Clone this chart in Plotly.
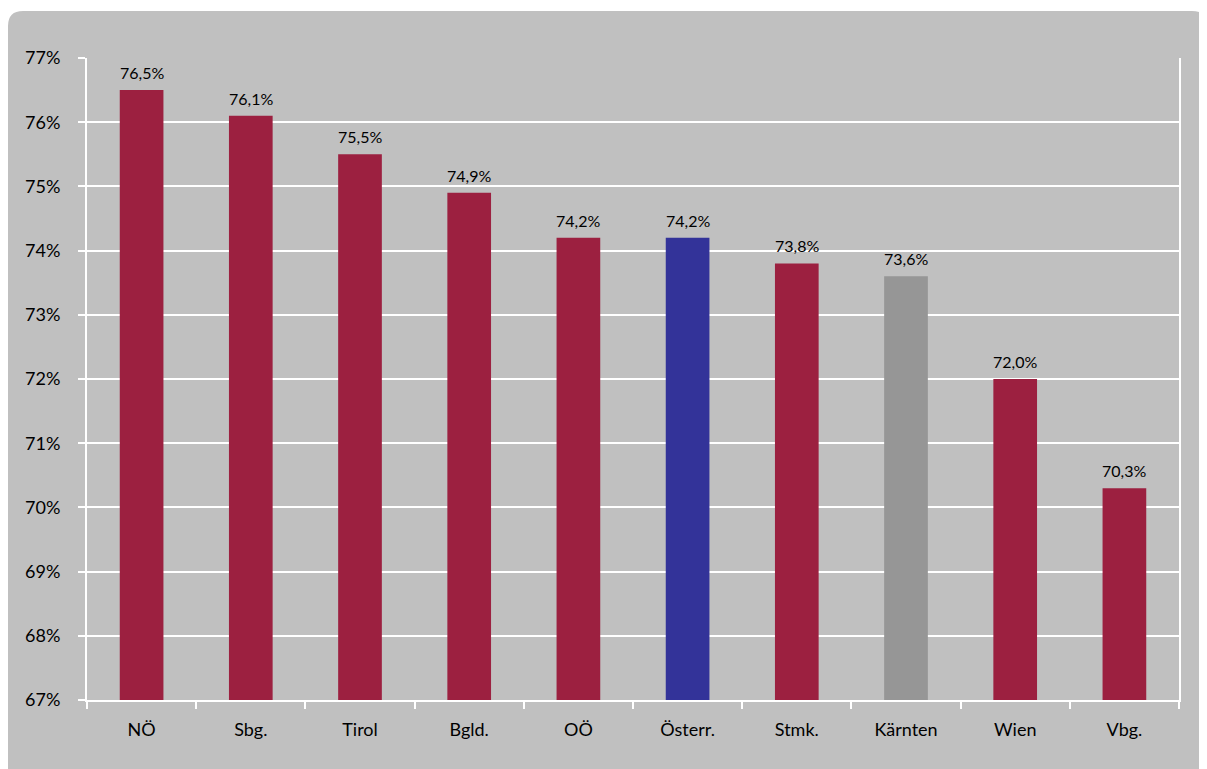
import plotly.graph_objects as go

categories = ["NÖ", "Sbg.", "Tirol", "Bgld.", "OÖ", "Österr.", "Stmk.", "Kärnten", "Wien", "Vbg."]
values = [76.5, 76.1, 75.5, 74.9, 74.2, 74.2, 73.8, 73.6, 72.0, 70.3]
label_texts = ["76,5%", "76,1%", "75,5%", "74,9%", "74,2%", "74,2%", "73,8%", "73,6%", "72,0%", "70,3%"]
bar_colors = ["#9C2040", "#9C2040", "#9C2040", "#9C2040", "#9C2040", "#333399", "#9C2040", "#969696", "#9C2040", "#9C2040"]
y_ticks = [67, 68, 69, 70, 71, 72, 73, 74, 75, 76, 77]
y_tick_text = ["67%", "68%", "69%", "70%", "71%", "72%", "73%", "74%", "75%", "76%", "77%"]

# page has an 8px body margin, so the figure is sized to fill the rest
W, H = 1199, 761
L, R, T, B = 79, 28, 50, 69
pw, ph = W - L - R, H - T - B

def px_x(p):
    return (p - L) / pw

def px_y(p):
    return (H - B - p) / ph

# white areas outside the rounded grey panel (top strip and rounded corners)
top, r = 3, 15
xl, xr = 0, W + 10
strip = (f"M {px_x(-5)},{px_y(-5)} L {px_x(xr)},{px_y(-5)} "
         f"L {px_x(xr)},{px_y(top)} L {px_x(-5)},{px_y(top)} Z")
corner_left = (f"M {px_x(xl)},{px_y(top)} L {px_x(xl + r)},{px_y(top)} "
               f"Q {px_x(xl)},{px_y(top)} {px_x(xl)},{px_y(top + r)} Z")
xr2 = W
corner_right = (f"M {px_x(xr2)},{px_y(top)} L {px_x(xr2 - r)},{px_y(top)} "
                f"Q {px_x(xr2)},{px_y(top)} {px_x(xr2)},{px_y(top + r)} Z")

FONT = "Lato, Noto Sans, sans-serif"

fig = go.Figure()
fig.add_trace(go.Bar(
    x=categories,
    y=values,
    marker=dict(color=bar_colors, line=dict(width=0)),
    width=0.4,
    hoverinfo="skip",
))

annotations = [
    dict(x=c, y=v, text=t, xref="x", yref="y", showarrow=False,
         yanchor="bottom", yshift=6,
         font=dict(family=FONT, size=16, color="#000000"))
    for c, v, t in zip(categories, values, label_texts)
]

white_shape = dict(type="path", xref="paper", yref="paper",
                   fillcolor="#FFFFFF", line=dict(width=0), layer="below")

fig.update_layout(
    width=W, height=H,
    margin=dict(l=L, r=R, t=T, b=B),
    paper_bgcolor="#C0C0C0",
    plot_bgcolor="#C0C0C0",
    showlegend=False,
    annotations=annotations,
    shapes=[dict(white_shape, path=strip),
            dict(white_shape, path=corner_left),
            dict(white_shape, path=corner_right)],
    xaxis=dict(
        showgrid=False,
        showline=True, linecolor="#FFFFFF", linewidth=2,
        ticks="outside", tickson="boundaries", ticklen=7, tickcolor="#FFFFFF", tickwidth=2,
        tickfont=dict(family=FONT, size=18, color="#000000"),
        ticklabelstandoff=12,
        range=[-0.5, 9.5],
    ),
    yaxis=dict(
        range=[67, 77],
        tickvals=y_ticks,
        ticktext=y_tick_text,
        showgrid=True, gridcolor="#FFFFFF", gridwidth=2,
        showline=True, linecolor="#FFFFFF", linewidth=2, mirror=True,
        ticks="outside", ticklen=7, tickcolor="#FFFFFF", tickwidth=2,
        tickfont=dict(family=FONT, size=18, color="#000000"),
        ticklabelstandoff=14,
        zeroline=False,
    ),
)

fig.write_html("out.html")
